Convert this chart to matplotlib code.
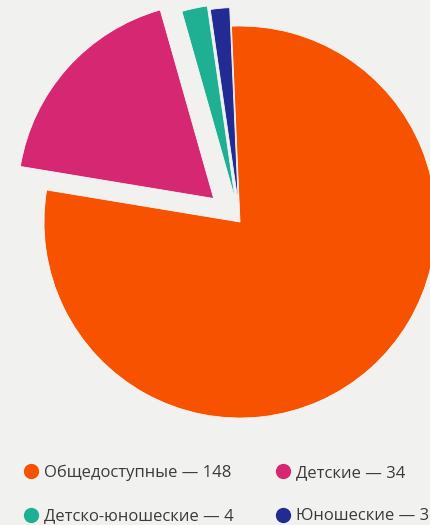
#!/usr/bin/env python3
"""Pie chart: types of sports schools / clubs."""
import matplotlib
matplotlib.use("Agg")
import matplotlib.pyplot as plt
from matplotlib.lines import Line2D

categories = ["Общедоступные", "Детские", "Детско-юношеские", "Юношеские"]
values = [148, 34, 4, 3]
colors = ["#f75200", "#d62872", "#1fb093", "#212b92"]
explode = [0.0, 0.18, 0.115, 0.095]

BG = "#f1f1f0"

plt.rcParams["font.family"] = ["Open Sans", "DejaVu Sans"]

fig = plt.figure(figsize=(4.30, 5.25), dpi=100, facecolor=BG)
ax = fig.add_axes([0, 0, 1, 1])
ax.set_facecolor(BG)

ax.pie(values, colors=colors, explode=explode, startangle=92.5,
       counterclock=False, radius=1.0,
       wedgeprops=dict(linewidth=0.6, edgecolor="#f6f6f6"))

# pie radius ~196 px, centre at (240, 222) px from top-left
ax.set_xlim(-240 / 196, 190 / 196)
ax.set_ylim(-303 / 196, 222 / 196)
ax.set_aspect("equal")
ax.axis("off")

handles = [Line2D([], [], marker="o", linestyle="none", markersize=10,
                  markerfacecolor=c, markeredgecolor=c) for c in colors]
labels = [f"{c} — {v}" for c, v in zip(categories, values)]
# legend fills column-wise; reorder so it reads row by row
order = [0, 2, 1, 3]
leg = fig.legend([handles[i] for i in order], [labels[i] for i in order],
                 ncol=2, frameon=False,
                 loc="upper left", bbox_to_anchor=(0.042, 0.128),
                 fontsize=12, handlelength=0.75, handletextpad=0.4,
                 columnspacing=2.6, labelspacing=1.65, borderaxespad=0)
for t in leg.get_texts():
    t.set_color("#3a3a3a")

fig.savefig("out.png", dpi=100, facecolor=BG)
plt.close(fig)
